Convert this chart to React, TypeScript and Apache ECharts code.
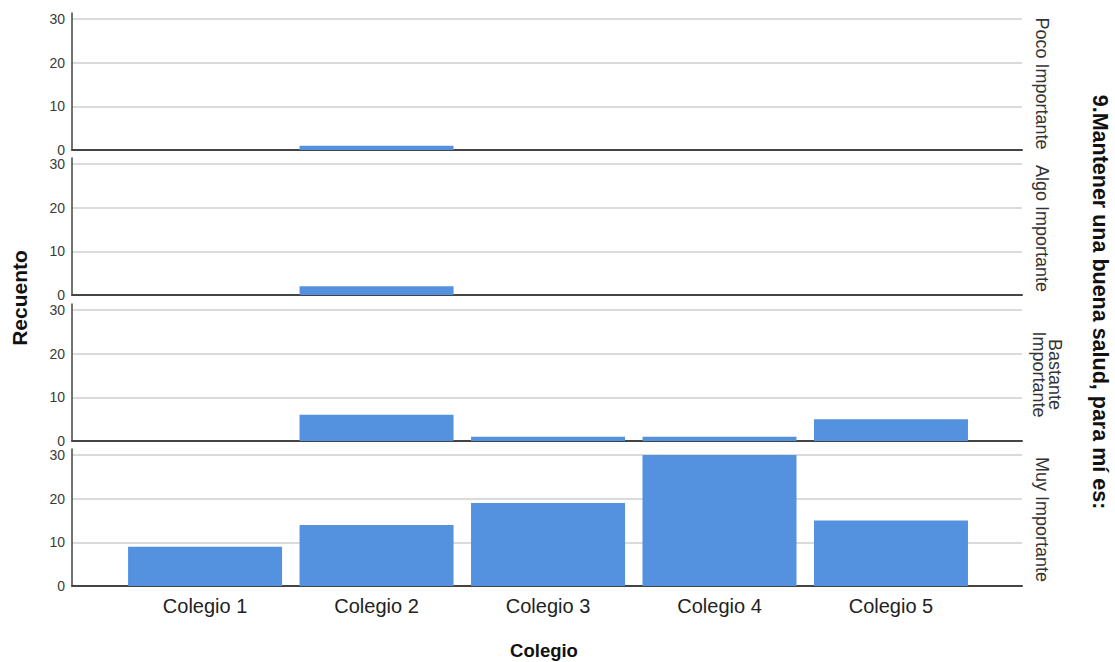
import { useEffect, useRef } from 'react';
import * as echarts from 'echarts';

const categories = ['Colegio 1', 'Colegio 2', 'Colegio 3', 'Colegio 4', 'Colegio 5'];
const panelLabels = ['Poco Importante', 'Algo Importante', 'Bastante\nImportante', 'Muy Importante'];
const pocoImportante = [0, 1, 0, 0, 0];
const algoImportante = [0, 2, 0, 0, 0];
const bastanteImportante = [0, 6, 1, 1, 5];
const muyImportante = [9, 14, 19, 30, 15];
const yTicks = [0, 10, 20, 30];
const xTitle = 'Colegio';
const yTitle = 'Recuento';
const rightTitle = '9.Mantener una buena salud, para mí es:';

const FONT = '"Liberation Sans", Arial, Helvetica, sans-serif';
const BAR = '#5492e0';

export default function App() {
  const ref = useRef<HTMLDivElement>(null);
  useEffect(() => {
    if (!ref.current) return;
    const chart = echarts.init(ref.current, null, { renderer: 'svg' });
    const panels = [pocoImportante, algoImportante, bastanteImportante, muyImportante];
    const tops = [13, 158, 304, 449];
    const H = 137;
    const left = 72;
    const width = 950;

    const grid = tops.map((t) => ({ left, top: t, width, height: H }));
    const xAxis = panels.map((_, i) => ({
      type: 'value',
      gridIndex: i,
      min: -0.776,
      max: 4.764,
      axisLine: { show: true, onZero: false, lineStyle: { color: '#444', width: 2 } },
      axisTick: { show: false },
      splitLine: { show: false },
      axisLabel: {
        show: i === panels.length - 1,
        customValues: [0, 1, 2, 3, 4],
        formatter: (v: number) => categories[Math.round(v)] ?? '',
        fontFamily: FONT,
        fontSize: 20,
        color: '#222',
        margin: 10,
      },
    }));
    const yAxis = panels.map((_, i) => ({
      type: 'value',
      gridIndex: i,
      min: 0,
      max: 31.4,
      axisLine: { show: true, onZero: false, lineStyle: { color: '#444', width: 1.5 } },
      axisTick: { show: false, customValues: yTicks },
      axisLabel: {
        customValues: yTicks,
        fontFamily: FONT,
        fontSize: 14,
        color: '#3a3a3a',
        margin: 7,
      },
      splitLine: { show: true, lineStyle: { color: '#cfcfcf', width: 1.5 } },
    }));
    const series = panels.map((vals, i) => ({
      type: 'bar',
      xAxisIndex: i,
      yAxisIndex: i,
      barWidth: 154,
      itemStyle: { color: BAR },
      data: vals.map((v, j) => [j, v]),
      z: 3,
    }));

    const graphic: any[] = [];
    panelLabels.forEach((lab, i) => {
      const twoLines = lab.includes('\n');
      graphic.push({
        type: 'text',
        x: twoLines ? 1047 : 1042,
        y: tops[i] + H / 2 + 2,
        rotation: -Math.PI / 2,
        style: {
          text: lab,
          fontFamily: FONT,
          fontSize: 18,
          fill: '#333',
          textAlign: 'center',
          textVerticalAlign: 'middle',
          lineHeight: 16,
        },
      });
    });
    graphic.push({
      type: 'text',
      x: 1100,
      y: 302,
      rotation: -Math.PI / 2,
      style: {
        text: rightTitle,
        fontFamily: FONT,
        fontSize: 21.5,
        fontWeight: 'bold',
        fill: '#111',
        textAlign: 'center',
        textVerticalAlign: 'middle',
      },
    });
    graphic.push({
      type: 'text',
      x: 19,
      y: 298,
      rotation: Math.PI / 2,
      style: {
        text: yTitle,
        fontFamily: FONT,
        fontSize: 21,
        fontWeight: 'bold',
        fill: '#111',
        textAlign: 'center',
        textVerticalAlign: 'middle',
      },
    });
    graphic.push({
      type: 'text',
      x: 544,
      y: 650,
      style: {
        text: xTitle,
        fontFamily: FONT,
        fontSize: 18.5,
        fontWeight: 'bold',
        fill: '#111',
        textAlign: 'center',
        textVerticalAlign: 'middle',
      },
    });

    chart.setOption({
      animation: false,
      backgroundColor: '#fff',
      grid,
      xAxis,
      yAxis,
      series,
      graphic,
    } as any);
    return () => chart.dispose();
  }, []);
  return (
    <div
      ref={ref}
      style={{ position: 'fixed', left: 0, top: 0, width: 1115, height: 662 }}
    />
  );
}
